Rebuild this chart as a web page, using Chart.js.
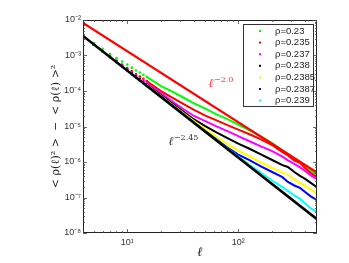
<!DOCTYPE html>
<html lang="en">
<head>
    <meta charset="UTF-8">
    <title>Density fluctuations</title>
    <script src="https://cdn.jsdelivr.net/npm/chart.js"></script>
    <style>
        html, body { margin: 0; padding: 0; background: #fff; }
        #wrap { width: 349px; height: 263px; }
    </style>
</head>
<body>
<div id="wrap"><canvas id="chart"></canvas></div>
<script>
// box size l (x values shared by every rho curve)
const ell = [4, 5, 6, 7, 8, 9, 10, 11, 12, 13, 14, 15, 16, 20, 25, 32, 40, 50, 63, 80, 100, 125, 160, 200, 250, 280, 320, 360, 400, 450, 512];

// variance <rho^2> - <rho>^2 for each density
const var0230  = [3.55e-3, 2.26e-3, 1.545e-3, 1.096e-3, 8.43e-4, 6.75e-4, 5.55e-4, 4.54e-4, 3.78e-4, 3.32e-4, 2.86e-4, 2.50e-4, 2.20e-4, 1.40e-4, 9.86e-5, 6.56e-5, 4.46e-5, 3.24e-5, 2.23e-5, 1.61e-5, 1.135e-5, 7.96e-6, 5.30e-6, 3.48e-6, 2.15e-6, 1.69e-6, 1.256e-6, 1.005e-6, 7.74e-7, 6.01e-7, 4.24e-7];
const var0235  = [3.55e-3, 2.05e-3, 1.36e-3, 9.62e-4, 7.16e-4, 5.55e-4, 4.42e-4, 3.62e-4, 3.02e-4, 2.56e-4, 2.21e-4, 1.90e-4, 1.64e-4, 1.01e-4, 6.68e-5, 4.31e-5, 2.92e-5, 2.06e-5, 1.51e-5, 1.094e-5, 8.20e-6, 6.14e-6, 4.36e-6, 3.06e-6, 1.89e-6, 1.53e-6, 1.10e-6, 9.42e-7, 6.81e-7, 4.94e-7, 3.72e-7];
const var0237  = [3.55e-3, 2.05e-3, 1.315e-3, 9.31e-4, 6.93e-4, 5.27e-4, 4.14e-4, 3.39e-4, 2.77e-4, 2.32e-4, 1.98e-4, 1.69e-4, 1.445e-4, 8.91e-5, 5.33e-5, 3.11e-5, 1.98e-5, 1.44e-5, 1.025e-5, 7.41e-6, 5.38e-6, 3.90e-6, 2.77e-6, 2.07e-6, 1.41e-6, 1.107e-6, 8.79e-7, 7.05e-7, 5.61e-7, 4.21e-7, 3.27e-7];
const var0238  = [3.55e-3, 2.05e-3, 1.315e-3, 9.02e-4, 6.62e-4, 5.04e-4, 3.94e-4, 3.16e-4, 2.56e-4, 2.14e-4, 1.795e-4, 1.52e-4, 1.31e-4, 7.82e-5, 4.68e-5, 2.65e-5, 1.58e-5, 1.04e-5, 6.95e-6, 4.71e-6, 3.30e-6, 2.40e-6, 1.65e-6, 1.156e-6, 8.15e-7, 7.26e-7, 5.24e-7, 4.06e-7, 3.33e-7, 2.58e-7, 1.95e-7];
const var02385 = [3.55e-3, 2.05e-3, 1.315e-3, 9.02e-4, 6.50e-4, 4.88e-4, 3.76e-4, 2.98e-4, 2.45e-4, 2.04e-4, 1.71e-4, 1.47e-4, 1.27e-4, 7.33e-5, 4.31e-5, 2.40e-5, 1.415e-5, 8.55e-6, 5.20e-6, 3.19e-6, 2.10e-6, 1.475e-6, 9.80e-7, 6.89e-7, 5.00e-7, 4.47e-7, 3.22e-7, 2.58e-7, 2.12e-7, 1.69e-7, 1.28e-7];
const var02387 = [3.55e-3, 2.05e-3, 1.315e-3, 9.02e-4, 6.50e-4, 4.88e-4, 3.76e-4, 2.98e-4, 2.40e-4, 1.98e-4, 1.65e-4, 1.39e-4, 1.23e-4, 7.10e-5, 4.11e-5, 2.25e-5, 1.30e-5, 7.52e-6, 4.42e-6, 2.54e-6, 1.62e-6, 1.14e-6, 7.57e-7, 5.31e-7, 3.74e-7, 2.74e-7, 2.18e-7, 1.86e-7, 1.435e-7, 1.076e-7, 8.38e-8];
const var0239  = [3.55e-3, 2.05e-3, 1.315e-3, 9.02e-4, 6.50e-4, 4.88e-4, 3.76e-4, 2.98e-4, 2.40e-4, 1.98e-4, 1.65e-4, 1.39e-4, 1.19e-4, 6.87e-5, 3.98e-5, 2.18e-5, 1.26e-5, 7.28e-6, 4.22e-6, 2.38e-6, 1.42e-6, 8.49e-7, 4.95e-7, 3.06e-7, 1.95e-7, 1.53e-7, 1.14e-7, 9.12e-8, 6.81e-8, 4.94e-8, 3.85e-8];

const rhoLabels = ["\u03c1=0.23", "\u03c1=0.235", "\u03c1=0.237", "\u03c1=0.238", "\u03c1=0.2385", "\u03c1=0.2387", "\u03c1=0.239"];
const rhoColors = ["#00ff00", "#ff0000", "#ff00ff", "#000000", "#ffff00", "#0000ff", "#00ffff"];
const rhoSeries = [var0230, var0235, var0237, var0238, var02385, var02387, var0239];

// power-law guide lines, end points
const refEll = [4, 512];
const ref20  = [8.3e-3, 5.07e-7];   // l^-2.0
const ref245 = [3.55e-3, 2.445e-8]; // l^-2.45

const xTicks = [10, 100];
const yTicks = [1e-8, 1e-7, 1e-6, 1e-5, 1e-4, 1e-3, 1e-2];

const SUP = { "-": "\u207b", "0": "\u2070", "1": "\u00b9", "2": "\u00b2", "3": "\u00b3", "4": "\u2074", "5": "\u2075", "6": "\u2076", "7": "\u2077", "8": "\u2078", "9": "\u2079" };
function powLabel(v) {
    const e = String(Math.round(Math.log10(v)));
    return "10" + e.split("").map(c => SUP[c]).join("");
}

const DOT_END = 15; // below this the points show as separate dots

const datasets = rhoSeries.map((vals, i) => ({
    label: rhoLabels[i],
    data: ell.map((l, j) => ({ x: l, y: vals[j] })),
    borderColor: rhoColors[i],
    backgroundColor: rhoColors[i],
    borderWidth: 2,
    pointRadius: ctx => (ctx.raw && ctx.raw.x <= DOT_END ? 1.3 : 0),
    pointBorderWidth: 0,
    segment: {
        borderColor: ctx => (ctx.p0.parsed.x < DOT_END ? "transparent" : rhoColors[i])
    },
    order: 10 - i
}));

datasets.push({
    label: "ref20",
    data: refEll.map((l, j) => ({ x: l, y: ref20[j] })),
    borderColor: "#ff0000", borderWidth: 2.2, pointRadius: 0, order: 1
});
datasets.push({
    label: "ref245",
    data: refEll.map((l, j) => ({ x: l, y: ref245[j] })),
    borderColor: "#000000", borderWidth: 2.6, pointRadius: 0, order: 0
});

// frame, inward ticks, legend box and slope labels
const decor = {
    id: "decor",
    afterDraw(chart) {
        const { ctx, chartArea: a, scales: { x, y } } = chart;
        ctx.save();
        ctx.strokeStyle = "#222";
        ctx.lineWidth = 1;
        ctx.strokeRect(a.left + 0.5, a.top + 0.5, a.right - a.left - 1, a.bottom - a.top - 1);

        ctx.strokeStyle = "#444";
        ctx.lineWidth = 0.8;
        ctx.beginPath();
        for (let d = 0; d <= 2; d++) {
            for (let k = 1; k <= 9; k++) {
                const v = k * Math.pow(10, d);
                if (v < x.min || v > x.max) continue;
                const px = Math.round(x.getPixelForValue(v)) + 0.5;
                const len = k === 1 ? 4 : 2;
                ctx.moveTo(px, a.bottom); ctx.lineTo(px, a.bottom - len);
                ctx.moveTo(px, a.top); ctx.lineTo(px, a.top + len);
            }
        }
        for (let d = -8; d <= -2; d++) {
            for (let k = 1; k <= 9; k++) {
                const v = k * Math.pow(10, d);
                if (v < y.min * 0.999 || v > y.max * 1.001) continue;
                const py = Math.round(y.getPixelForValue(v)) + 0.5;
                const len = k === 1 ? 4 : 2;
                ctx.moveTo(a.left, py); ctx.lineTo(a.left + len, py);
                ctx.moveTo(a.right, py); ctx.lineTo(a.right - len, py);
            }
        }
        ctx.stroke();

        // slope labels
        function slopeLabel(lx, ly, exp, color) {
            const px = x.getPixelForValue(lx), py = y.getPixelForValue(ly);
            ctx.fillStyle = color;
            ctx.textBaseline = "alphabetic";
            ctx.textAlign = "left";
            ctx.font = "italic 12px 'DejaVu Serif'";
            ctx.fillText("\u2113", px, py);
            const w = ctx.measureText("\u2113").width;
            ctx.font = "8px 'DejaVu Serif'";
            ctx.fillText(exp, px + w + 0.5, py - 5);
        }
        slopeLabel(54, 1.3e-4, "\u22122.0", "#ff3030");
        slopeLabel(23.5, 3.0e-6, "\u22122.45", "#333333");

        // legend box
        const bx = a.right - 74, by = a.top + 4, bw = 70, bh = 82;
        ctx.fillStyle = "#fff";
        ctx.fillRect(bx, by, bw, bh);
        ctx.strokeStyle = "#333";
        ctx.lineWidth = 1;
        ctx.strokeRect(bx + 0.5, by + 0.5, bw, bh);
        ctx.font = "9.5px 'Liberation Sans'";
        ctx.textBaseline = "middle";
        rhoLabels.forEach((lab, i) => {
            const cy = by + 7 + i * 11.6;
            ctx.fillStyle = rhoColors[i];
            ctx.fillRect(bx + 16, cy - 1, 2, 2);
            ctx.fillStyle = "#222";
            ctx.fillText(lab, bx + 32, cy);
        });
        ctx.restore();
    }
};

new Chart(document.getElementById("chart"), {
    type: "line",
    data: { datasets: datasets },
    options: {
        responsive: true,
        maintainAspectRatio: false,
        animation: false,
        layout: { padding: { left: 48, right: 32, top: 20, bottom: 0 } },
        plugins: { legend: { display: false }, tooltip: { enabled: false } },
        scales: {
            x: {
                type: "logarithmic", min: 4, max: 512,
                grid: { display: false, drawTicks: false, tickLength: 0 }, border: { display: false },
                afterBuildTicks: s => { s.ticks = xTicks.map(v => ({ value: v })); },
                afterFit: s => { s.height = 30; },
                ticks: { callback: v => powLabel(v), color: "#333", font: { size: 9, family: "Liberation Sans" }, padding: 4, maxRotation: 0 },
                title: { display: true, text: "\u2113", color: "#222", font: { size: 13, family: "DejaVu Serif", style: "italic" }, padding: { top: 0, bottom: 3 } }
            },
            y: {
                type: "logarithmic", min: 1e-8, max: 1e-2,
                grid: { display: false, drawTicks: false, tickLength: 0 }, border: { display: false },
                afterBuildTicks: s => { s.ticks = yTicks.map(v => ({ value: v })); },
                afterFit: s => { s.width = 35; },
                ticks: { callback: v => powLabel(v), color: "#333", font: { size: 9, family: "Liberation Sans" }, padding: 2 },
                title: { display: true, text: "< \u03c1(\u2113)\u00b2 >  \u2212  < \u03c1(\u2113) >\u00b2", color: "#222", font: { size: 11, family: "DejaVu Serif" }, padding: { top: 2, bottom: 0 } }
            }
        }
    },
    plugins: [decor]
});
</script>
</body>
</html>
